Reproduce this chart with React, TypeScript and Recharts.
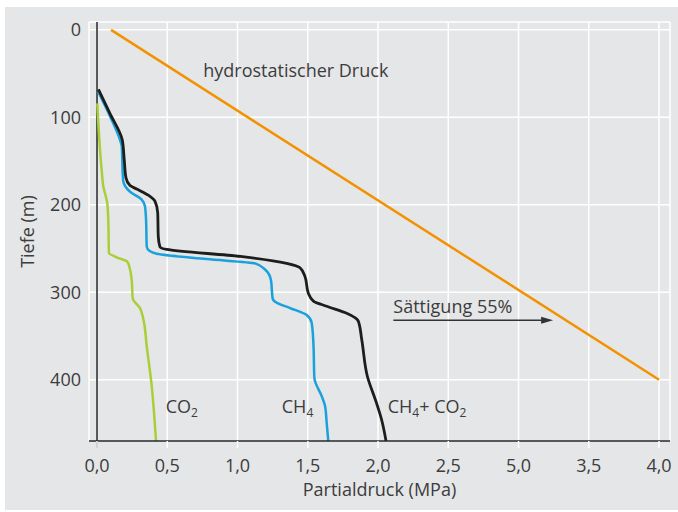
import {
  LineChart,
  Line,
  XAxis,
  YAxis,
  CartesianGrid,
  ReferenceLine,
  ReferenceDot,
  Label
} from 'recharts';

// hydrostatic pressure line
const hydroP = [0.1, 4.0];
const hydroDepth = [0, 400];

// CH4 + CO2 (black)
const sumP = [0.01, 0.09, 0.18, 0.194, 0.206, 0.235, 0.283, 0.365, 0.413, 0.432, 0.436, 0.448, 0.496, 1.02, 1.35, 1.445, 1.48, 1.504, 1.54, 1.635, 1.777, 1.86, 1.884, 1.924, 1.99, 2.026, 2.057];
const sumDepth = [68, 95, 126, 149, 169, 178, 182, 189, 196, 209, 236, 248, 251, 259, 267, 272, 282, 301, 310, 316, 324, 333, 354, 396, 427, 446, 470];

// CH4 (blue)
const ch4P = [0.009, 0.093, 0.164, 0.176, 0.183, 0.187, 0.235, 0.318, 0.342, 0.349, 0.354, 0.377, 0.425, 0.78, 1.125, 1.196, 1.238, 1.25, 1.279, 1.374, 1.492, 1.528, 1.54, 1.547, 1.6, 1.623, 1.635, 1.646];
const ch4Depth = [71, 99, 126, 133, 164, 173, 185, 194, 202, 217, 248, 253, 256, 262, 267, 274, 286, 307, 312, 318, 326, 335, 358, 398, 419, 430, 450, 470];

// CO2 (green)
const co2P = [0.002, 0.033, 0.045, 0.073, 0.08, 0.085, 0.14, 0.216, 0.235, 0.247, 0.254, 0.306, 0.33, 0.354, 0.39, 0.406, 0.42];
const co2Depth = [84, 160, 179, 198, 217, 255, 260, 265, 274, 286, 307, 318, 331, 362, 408, 438, 470];

const xTicks = [0, 0.5, 1, 1.5, 2, 2.5, 3, 3.5, 4];
const xTickLabels = ['0,0', '0,5', '1,0', '1,5', '2,0', '2,5', '5,0', '3,5', '4,0'];
const yTicks = [0, 100, 200, 300, 400];

const toPoints = (p: number[], d: number[]) => p.map((v, i) => ({ p: v, depth: d[i] }));

const hydroData = toPoints(hydroP, hydroDepth);
const sumData = toPoints(sumP, sumDepth);
const ch4Data = toPoints(ch4P, ch4Depth);
const co2Data = toPoints(co2P, co2Depth);

const FONT = '"Open Sans", "Liberation Sans", sans-serif';
const TEXT = '#3c3c3c';

function textShape(main: string, sub?: string, rest?: string, rest2?: string) {
  return (props: any) => (
    <text x={props.cx} y={props.cy} fill={TEXT} fontFamily={FONT} fontSize={18}>
      {main}
      {sub && <tspan fontSize={12} dy={4}>{sub}</tspan>}
      {rest && <tspan dy={-4}>{rest}</tspan>}
      {rest2 && <tspan fontSize={12} dy={4}>{rest2}</tspan>}
    </text>
  );
}

function arrowShape(props: any) {
  const { x1, y1, x2, y2 } = props;
  return (
    <g>
      <line x1={x1} y1={y1} x2={x2 - 10} y2={y2} stroke="#333" strokeWidth={1.4} />
      <polygon points={`${x2},${y2} ${x2 - 12},${y2 - 3.5} ${x2 - 12},${y2 + 3.5}`} fill="#333" />
    </g>
  );
}

function App() {
  return (
    <div style={{ position: 'absolute', left: 0, top: 0, width: 678, height: 512, background: '#fff' }}>
      <div style={{ position: 'absolute', left: 5, top: 7, width: 673, height: 503, background: '#e5e6e7' }} />
      <div style={{ position: 'absolute', left: 0, top: 0 }}>
        <LineChart width={678} height={512} margin={{ top: 22, right: 8, bottom: 31, left: 0 }}>
          <CartesianGrid stroke="#ffffff" strokeWidth={1.5} />
          <XAxis
            type="number"
            dataKey="p"
            domain={[-0.057, 4.078]}
            allowDataOverflow
            ticks={xTicks}
            tickFormatter={(v: number) => xTickLabels[xTicks.indexOf(v)] ?? String(v)}
            height={40}
            tickSize={7}
            tickMargin={11}
            tickLine={{ stroke: '#ffffff', strokeWidth: 1.5 }}
            axisLine={{ stroke: '#222', strokeWidth: 1.5 }}
            tick={{ fill: TEXT, fontSize: 18, fontFamily: FONT }}
          >
            <Label
              value="Partialdruck (MPa)"
              position="bottom"
              offset={2}
              style={{ fill: TEXT, fontSize: 18, fontFamily: FONT }}
            />
          </XAxis>
          <YAxis
            type="number"
            dataKey="depth"
            reversed
            domain={[-9, 470]}
            allowDataOverflow
            ticks={yTicks}
            width={89}
            tickLine={false}
            axisLine={false}
            tick={{ fill: TEXT, fontSize: 18, fontFamily: FONT }}
          >
            <Label
              value="Tiefe (m)"
              angle={-90}
              position="insideLeft"
              offset={28}
              style={{ fill: TEXT, fontSize: 18, fontFamily: FONT, textAnchor: 'middle' }}
            />
          </YAxis>
          <ReferenceLine
            segment={[{ x: 0, y: -9 }, { x: 0, y: 478 }]}
            stroke="#222"
            strokeWidth={1.5}
            ifOverflow="visible"
          />
          <Line data={hydroData} dataKey="depth" type="linear" stroke="#f39200" strokeWidth={2.5} dot={false} activeDot={false} isAnimationActive={false} />
          <Line data={co2Data} dataKey="depth" type="monotoneY" stroke="#a9cf38" strokeWidth={2.5} dot={false} activeDot={false} isAnimationActive={false} />
          <Line data={ch4Data} dataKey="depth" type="monotoneY" stroke="#1aa0dc" strokeWidth={2.5} dot={false} activeDot={false} isAnimationActive={false} />
          <Line data={sumData} dataKey="depth" type="monotoneY" stroke="#1d1d1b" strokeWidth={2.8} dot={false} activeDot={false} isAnimationActive={false} />
          <ReferenceLine
            segment={[{ x: 2.109, y: 332 }, { x: 3.246, y: 332 }]}
            ifOverflow="visible"
            shape={arrowShape}
          />
          <ReferenceDot x={0.756} y={53.4} r={0} ifOverflow="visible" shape={textShape('hydrostatischer Druck')} />
          <ReferenceDot x={2.109} y={323.8} r={0} ifOverflow="visible" shape={textShape('Sättigung 55%')} />
          <ReferenceDot x={0.489} y={438} r={0} ifOverflow="visible" shape={textShape('CO', '2')} />
          <ReferenceDot x={1.315} y={438} r={0} ifOverflow="visible" shape={textShape('CH', '4')} />
          <ReferenceDot x={2.069} y={438} r={0} ifOverflow="visible" shape={textShape('CH', '4', '+ CO', '2')} />
        </LineChart>
      </div>
    </div>
  );
}

export default App;
